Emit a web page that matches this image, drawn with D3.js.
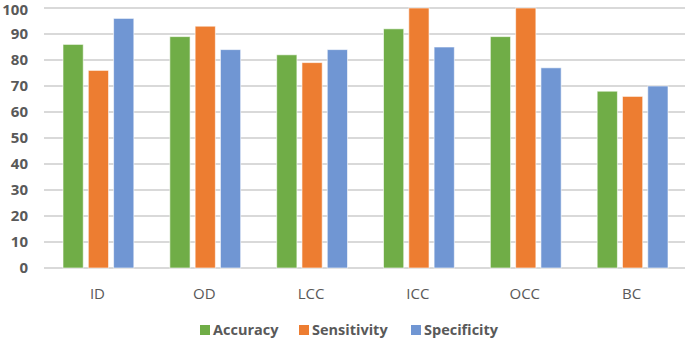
<!DOCTYPE html>
<html>
<head>
<meta charset="utf-8">
<script src="https://cdn.jsdelivr.net/npm/d3@7"></script>
<style>
body { margin: 0; background: #fff; }
svg { display: block; font-family: "Open Sans", "DejaVu Sans", sans-serif; }
</style>
</head>
<body>
<svg width="685" height="341"></svg>
<script>
var svg = d3.select('svg');
var width = +svg.attr('width');
var height = +svg.attr('height');

var categories = ['ID', 'OD', 'LCC', 'ICC', 'OCC', 'BC'];
var seriesNames = ['Accuracy', 'Sensitivity', 'Specificity'];
var accuracy = [86, 89, 82, 92, 89, 68];
var sensitivity = [76, 93, 79, 100, 100, 66];
var specificity = [96, 84, 84, 85, 77, 70];
var yTicks = [0, 10, 20, 30, 40, 50, 60, 70, 80, 90, 100];
var colors = ['#70AD47', '#ED7D31', '#7096D3'];

var series = [accuracy, sensitivity, specificity];

var padding = {t: 8, r: 0, b: 73, l: 44};

var xScale = d3.scaleBand()
  .domain(categories)
  .range([padding.l, width - padding.r]);

var inner = d3.scaleBand()
  .domain(seriesNames)
  .range([19, xScale.bandwidth() - 17])
  .paddingInner(0.2);

var yScale = d3.scaleLinear()
  .domain([0, 100])
  .range([height - padding.b, padding.t]);

// gridlines
svg.append('g')
  .selectAll('line')
  .data(yTicks)
  .enter().append('line')
  .attr('x1', padding.l)
  .attr('x2', width)
  .attr('y1', function(d) { return yScale(d); })
  .attr('y2', function(d) { return yScale(d); })
  .attr('stroke', '#D9D9D9')
  .attr('stroke-width', 2);

// y axis labels
var yAxis = svg.append('g')
  .attr('transform', 'translate(' + [padding.l - 16, 0] + ')')
  .call(d3.axisLeft(yScale).tickValues(yTicks).tickSize(0).tickPadding(0));
yAxis.select('.domain').remove();
yAxis.selectAll('text')
  .attr('font-family', '"Open Sans", sans-serif')
  .attr('font-size', 15)
  .attr('font-weight', 'bold')
  .attr('fill', '#595959')
  .attr('dy', function(d) { return d === 100 ? '0.45em' : '0.32em'; });

// bars
categories.forEach(function(cat, i) {
  var g = svg.append('g').attr('transform', 'translate(' + xScale(cat) + ',0)');
  series.forEach(function(vals, j) {
    g.append('rect')
      .attr('x', inner(seriesNames[j]))
      .attr('y', yScale(vals[i]))
      .attr('width', inner.bandwidth())
      .attr('height', yScale(0) - yScale(vals[i]))
      .attr('fill', colors[j])
      .attr('stroke', '#ffffff')
      .attr('stroke-opacity', 0.6)
      .attr('stroke-width', 1);
  });
});

// x axis labels
var xAxis = svg.append('g')
  .attr('transform', 'translate(0,' + (height - padding.b) + ')')
  .call(d3.axisBottom(xScale).tickSize(0).tickPadding(20));
xAxis.select('.domain').remove();
xAxis.selectAll('text')
  .attr('font-family', '"Open Sans", sans-serif')
  .attr('font-size', 15)
  .attr('fill', '#595959');

// legend
var legendX = [200, 299, 411];
var legend = svg.append('g');
seriesNames.forEach(function(name, j) {
  legend.append('rect')
    .attr('x', legendX[j])
    .attr('y', 325)
    .attr('width', 10)
    .attr('height', 10)
    .attr('fill', colors[j]);
  legend.append('text')
    .attr('x', legendX[j] + 13)
    .attr('y', 335)
    .attr('font-size', 14.5)
    .attr('font-weight', 'bold')
    .attr('fill', '#595959')
    .text(name);
});
</script>
</body>
</html>
